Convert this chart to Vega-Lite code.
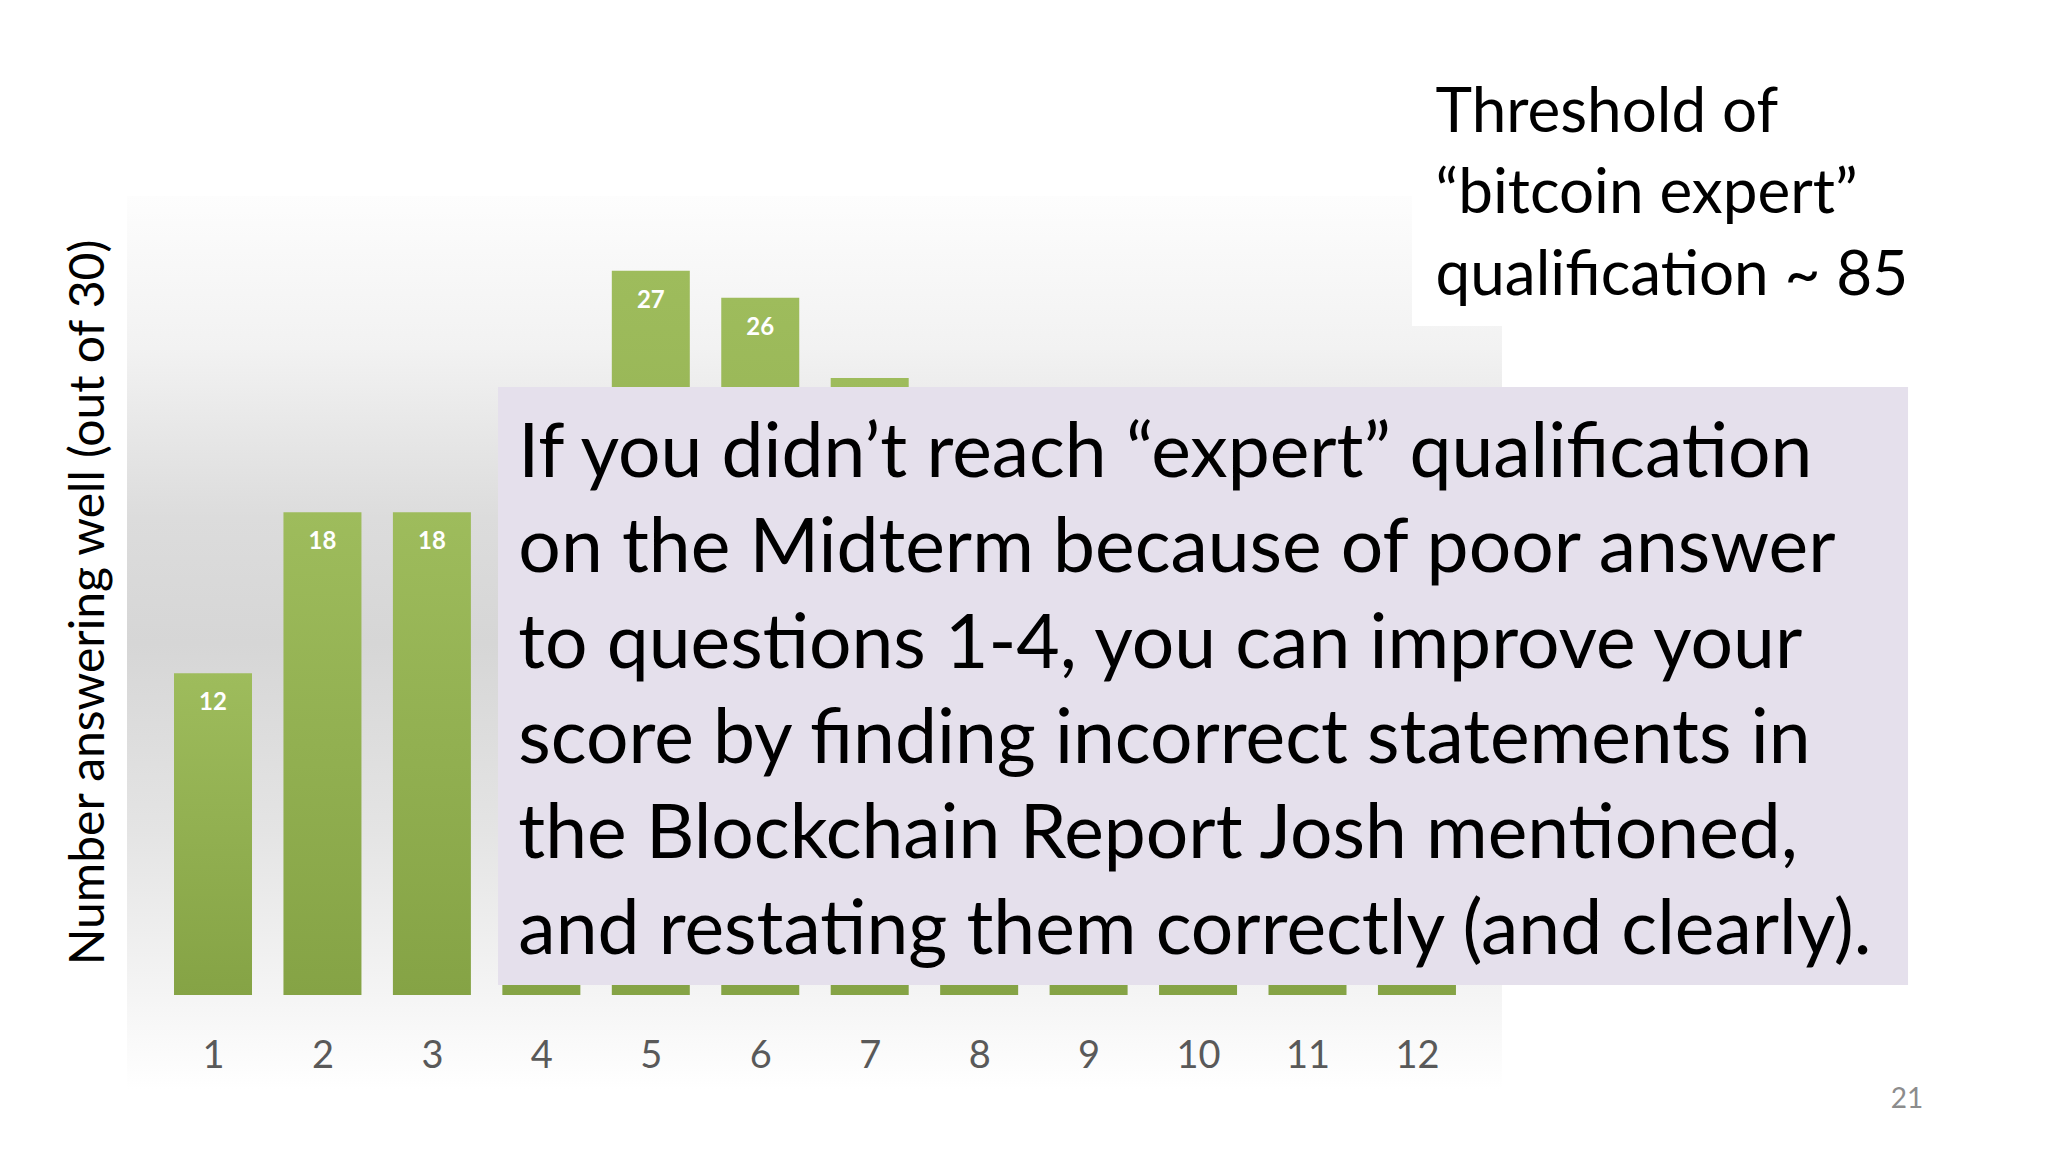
{
  "$schema": "https://vega.github.io/schema/vega-lite/v6.json",
  "autosize": {"type": "none"},
  "padding": {"left": 127, "top": 196, "right": 546, "bottom": 157},
  "width": 1375,
  "height": 799,
  "background": "#FFFFFF",
  "config": {"view": {"stroke": null}, "font": "Lato", "scale": {"continuousPadding": 0}},
  "layer": [
    {
      "data": {"values": [{"part": "plot background"}]},
      "mark": {
        "type": "rect",
        "color": {
          "gradient": "linear", "x1": 0, "y1": 0, "x2": 0, "y2": 1,
          "stops": [
            {"offset": 0, "color": "#FDFDFD"},
            {"offset": 0.17, "color": "#F2F2F2"},
            {"offset": 0.36, "color": "#DCDCDC"},
            {"offset": 0.5, "color": "#D6D6D6"},
            {"offset": 0.71, "color": "#E4E4E4"},
            {"offset": 0.9, "color": "#F5F5F5"},
            {"offset": 1, "color": "#FFFFFF"}
          ]
        }
      },
      "encoding": {
        "x": {"datum": 0.2142, "type": "quantitative", "scale": {"domain": [0.2142, 12.777], "nice": false, "zero": false, "padding": 0}},
        "x2": {"datum": 12.777},
        "y": {"datum": 29.79, "type": "quantitative", "scale": {"domain": [0, 29.79], "nice": false}},
        "y2": {"datum": -3.54}
      }
    },
    {
      "data": {"values": [
        {"question": 1, "count": 12}, {"question": 2, "count": 18}, {"question": 3, "count": 18},
        {"question": 4, "count": 20}, {"question": 5, "count": 27}, {"question": 6, "count": 26},
        {"question": 7, "count": 23}, {"question": 8, "count": 21}, {"question": 9, "count": 17},
        {"question": 10, "count": 19}, {"question": 11, "count": 15}, {"question": 12, "count": 11}
      ]},
      "layer": [
        {
          "mark": {
            "type": "bar",
            "width": 78,
            "color": {
              "gradient": "linear", "x1": 0, "y1": 0, "x2": 0, "y2": 1,
              "stops": [
                {"offset": 0, "color": "#9EBC5C"},
                {"offset": 1, "color": "#85A345"}
              ]
            }
          },
          "encoding": {
            "x": {
              "field": "question", "type": "quantitative",
              "scale": {"domain": [0.2142, 12.777], "nice": false, "zero": false, "padding": 0},
              "axis": {
                "values": [1, 2, 3, 4, 5, 6, 7, 8, 9, 10, 11, 12], "format": "d",
                "title": null, "grid": false, "domain": false, "ticks": false, "tickSize": 0,
                "labelPadding": 72, "labelBaseline": "alphabetic", "zindex": 1,
                "labelFont": "Lato", "labelFontSize": 38, "labelColor": "#595959"
              }
            },
            "y": {
              "field": "count", "type": "quantitative",
              "scale": {"domain": [0, 29.79], "nice": false},
              "axis": {
                "title": "Number answering well (out of 30)",
                "titleFont": "Lato", "titleFontSize": 48, "titleFontWeight": "normal", "titleColor": "#000000",
                "titlePadding": 14, "titleY": 406, "zindex": 1,
                "labels": false, "ticks": false, "tickSize": 0, "domain": false, "grid": false
              }
            }
          }
        },
        {
          "transform": [{"filter": "datum.question <= 3 || datum.count >= 25"}],
          "mark": {"type": "text", "color": "#FFFFFF", "fontWeight": "bold", "fontSize": 24, "baseline": "middle", "dy": 30, "font": "Lato"},
          "encoding": {
            "x": {"field": "question", "type": "quantitative", "scale": {"domain": [0.2142, 12.777], "nice": false, "zero": false, "padding": 0}},
            "y": {"field": "count", "type": "quantitative", "scale": {"domain": [0, 29.79], "nice": false}},
            "text": {"field": "count", "type": "quantitative"}
          }
        }
      ]
    },
    {
      "data": {"values": [{"part": "note box"}]},
      "mark": {"type": "rect", "color": "#E5E0EC"},
      "encoding": {
        "x": {"datum": 3.604, "type": "quantitative", "scale": {"domain": [0.2142, 12.777], "nice": false, "zero": false, "padding": 0}},
        "x2": {"datum": 16.487},
        "y": {"datum": 22.67, "type": "quantitative", "scale": {"domain": [0, 29.79], "nice": false}},
        "y2": {"datum": 0.373}
      }
    },
    {
      "data": {"values": [{"note": "If you didn’t reach “expert” qualification\non the Midterm because of poor answer\nto questions 1-4, you can improve your\nscore by finding incorrect statements in\nthe Blockchain Report Josh mentioned,\nand restating them correctly (and clearly)."}]},
      "mark": {"type": "text", "align": "left", "baseline": "alphabetic", "lineBreak": "\n", "lineHeight": 95.3, "fontSize": 75, "font": "Lato", "color": "#000000"},
      "encoding": {
        "x": {"datum": 3.79, "type": "quantitative", "scale": {"domain": [0.2142, 12.777], "nice": false, "zero": false, "padding": 0}},
        "y": {"datum": 19.31, "type": "quantitative", "scale": {"domain": [0, 29.79], "nice": false}},
        "text": {"field": "note", "type": "nominal"}
      }
    },
    {
      "data": {"values": [{"part": "threshold box"}]},
      "mark": {"type": "rect", "color": "#FFFFFF"},
      "encoding": {
        "x": {"datum": 11.955, "type": "quantitative", "scale": {"domain": [0.2142, 12.777], "nice": false, "zero": false, "padding": 0}},
        "x2": {"datum": 16.487},
        "y": {"datum": 34.68, "type": "quantitative", "scale": {"domain": [0, 29.79], "nice": false}},
        "y2": {"datum": 24.94}
      }
    },
    {
      "data": {"values": [{"note": "Threshold of\n“bitcoin expert”\nqualification ~ 85"}]},
      "mark": {"type": "text", "align": "left", "baseline": "alphabetic", "lineBreak": "\n", "lineHeight": 81.6, "fontSize": 62, "font": "Lato", "color": "#000000"},
      "encoding": {
        "x": {"datum": 12.17, "type": "quantitative", "scale": {"domain": [0.2142, 12.777], "nice": false, "zero": false, "padding": 0}},
        "y": {"datum": 32.18, "type": "quantitative", "scale": {"domain": [0, 29.79], "nice": false}},
        "text": {"field": "note", "type": "nominal"}
      }
    },
    {
      "data": {"values": [{"page": "21"}]},
      "mark": {"type": "text", "align": "center", "baseline": "middle", "fontSize": 28, "font": "Lato", "color": "#8C8C8C"},
      "encoding": {
        "x": {"datum": 16.477, "type": "quantitative", "scale": {"domain": [0.2142, 12.777], "nice": false, "zero": false, "padding": 0}},
        "y": {"datum": -3.9, "type": "quantitative", "scale": {"domain": [0, 29.79], "nice": false}},
        "text": {"field": "page", "type": "nominal"}
      }
    }
  ]
}
